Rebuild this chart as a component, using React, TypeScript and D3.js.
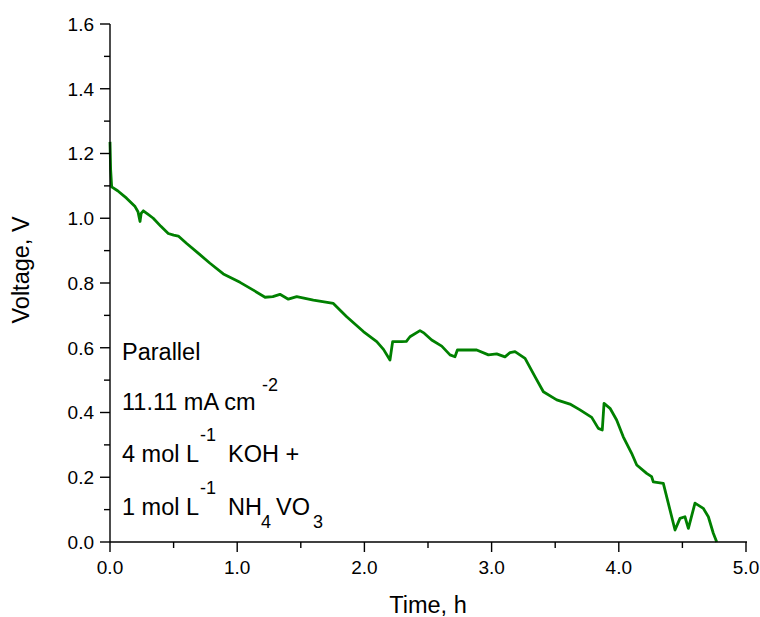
import React from "react";
import * as d3 from "d3";

const timeH = [0, 0.005, 0.013, 0.06, 0.13, 0.197, 0.22, 0.236, 0.245, 0.262, 0.3, 0.34, 0.4, 0.458, 0.5, 0.537, 0.603, 0.7, 0.786, 0.891, 1.022, 1.127, 1.219, 1.28, 1.336, 1.402, 1.468, 1.599, 1.756, 1.861, 1.992, 2.097, 2.15, 2.201, 2.222, 2.293, 2.33, 2.358, 2.437, 2.47, 2.529, 2.608, 2.673, 2.712, 2.731, 2.883, 2.975, 3.04, 3.105, 3.145, 3.184, 3.263, 3.341, 3.407, 3.512, 3.616, 3.695, 3.787, 3.839, 3.87, 3.884, 3.931, 3.983, 4.035, 4.101, 4.141, 4.219, 4.258, 4.271, 4.35, 4.389, 4.442, 4.481, 4.52, 4.547, 4.599, 4.664, 4.704, 4.743, 4.77];
const voltage = [1.236, 1.15, 1.097, 1.085, 1.062, 1.036, 1.02, 0.99, 1.015, 1.023, 1.012, 1.0, 0.975, 0.953, 0.948, 0.945, 0.922, 0.89, 0.861, 0.828, 0.802, 0.778, 0.756, 0.758, 0.765, 0.75, 0.758, 0.747, 0.737, 0.696, 0.65, 0.619, 0.595, 0.562, 0.619, 0.619, 0.62, 0.634, 0.653, 0.645, 0.624, 0.605, 0.578, 0.572, 0.593, 0.593, 0.578, 0.581, 0.572, 0.585, 0.588, 0.567, 0.511, 0.464, 0.439, 0.426, 0.408, 0.385, 0.351, 0.346, 0.428, 0.413, 0.377, 0.325, 0.274, 0.238, 0.212, 0.202, 0.186, 0.181, 0.12, 0.037, 0.073, 0.078, 0.042, 0.12, 0.104, 0.078, 0.027, 0.0];

const xMajor = [0, 1, 2, 3, 4, 5];
const xMinor = [0.5, 1.5, 2.5, 3.5, 4.5];
const yMajor = [0, 0.2, 0.4, 0.6, 0.8, 1.0, 1.2, 1.4, 1.6];
const yMinor = [0.1, 0.3, 0.5, 0.7, 0.9, 1.1, 1.3, 1.5];

const xTitle = "Time, h";
const yTitle = "Voltage, V";

const FONT = "Arial, 'Liberation Sans', sans-serif";

export default function App() {
  const left = 110, right = 746, top = 24, bottom = 542;
  const x = d3.scaleLinear().domain([0, 5]).range([left, right]);
  const y = d3.scaleLinear().domain([0, 1.6]).range([bottom, top]);
  const line = d3
    .line<number>()
    .x((_, i) => x(timeH[i]))
    .y((d) => y(d));
  const fmt = d3.format(".1f");
  const tickFs = 19;
  const titleFs = 23.5;
  const annFs = 23.5;
  const supFs = 18;
  const ax = 122;

  return (
    <svg width={760} height={617} style={{ position: "absolute", left: 0, top: 0, background: "#fff" }} fontFamily={FONT}>
      <rect x={0} y={0} width={760} height={617} fill="#fff" />
      <path d={line(voltage) || ""} fill="none" stroke="#008000" strokeWidth={2.8} strokeLinejoin="round" />
      {/* axes */}
      <line x1={left} x2={right + 1} y1={bottom} y2={bottom} stroke="#000" strokeWidth={1.4} />
      <line x1={left} x2={left} y1={top} y2={bottom} stroke="#000" strokeWidth={1.4} />
      {xMajor.map((v) => (
        <g key={"xm" + v}>
          <line x1={x(v)} x2={x(v)} y1={bottom} y2={bottom + 10} stroke="#000" strokeWidth={1.4} />
          <text x={x(v)} y={574} textAnchor="middle" fontSize={tickFs} fill="#000">{fmt(v)}</text>
        </g>
      ))}
      {xMinor.map((v) => (
        <line key={"xn" + v} x1={x(v)} x2={x(v)} y1={bottom} y2={bottom + 6} stroke="#000" strokeWidth={1.4} />
      ))}
      {yMajor.map((v) => (
        <g key={"ym" + v}>
          <line x1={left - 10} x2={left} y1={y(v)} y2={y(v)} stroke="#000" strokeWidth={1.4} />
          <text x={94} y={y(v)} dy="0.36em" textAnchor="end" fontSize={tickFs} fill="#000">{fmt(v)}</text>
        </g>
      ))}
      {yMinor.map((v) => (
        <line key={"yn" + v} x1={left - 6} x2={left} y1={y(v)} y2={y(v)} stroke="#000" strokeWidth={1.4} />
      ))}
      <text x={(left + right) / 2} y={613} textAnchor="middle" fontSize={titleFs} fill="#000">{xTitle}</text>
      <text transform={`translate(29,${(top + bottom) / 2 - 13}) rotate(-90)`} textAnchor="middle" fontSize={titleFs} fill="#000">{yTitle}</text>
      {/* annotation */}
      <g fontSize={annFs} fill="#000">
        <text x={ax} y={360}>Parallel</text>
        <text x={ax} y={410}>11.11 mA cm</text>
        <text x={262} y={391} fontSize={supFs}>-2</text>
        <text x={ax} y={462}>4 mol L</text>
        <text x={200} y={441} fontSize={supFs}>-1</text>
        <text x={228} y={462}>KOH +</text>
        <text x={ax} y={515}>1 mol L</text>
        <text x={200} y={494} fontSize={supFs}>-1</text>
        <text x={228} y={515}>NH</text>
        <text x={261} y={528} fontSize={supFs}>4</text>
        <text x={276} y={515}>VO</text>
        <text x={313} y={528} fontSize={supFs}>3</text>
      </g>
    </svg>
  );
}
